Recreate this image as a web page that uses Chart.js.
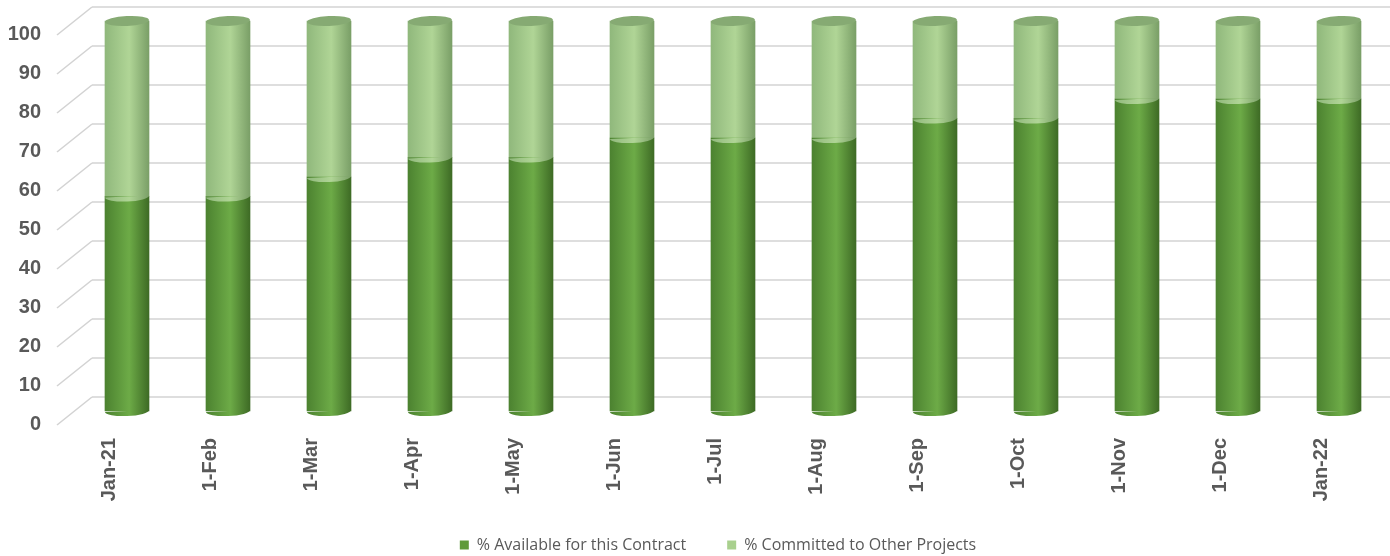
<!DOCTYPE html>
<html>
<head>
<meta charset="utf-8">
<script src="https://cdn.jsdelivr.net/npm/chart.js@4/dist/chart.umd.min.js"></script>
<style>
html, body { margin: 0; padding: 0; background: #fff; }
#wrap { width: 1390px; height: 556px; }
</style>
</head>
<body>
<div id="wrap"><canvas id="resources"></canvas></div>
<script>
var months = ["Jan-21", "1-Feb", "1-Mar", "1-Apr", "1-May", "1-Jun", "1-Jul",
	"1-Aug", "1-Sep", "1-Oct", "1-Nov", "1-Dec", "Jan-22"];
var available = [55, 55, 60, 65, 65, 70, 70, 70, 75, 75, 80, 80, 80];
var committed = [45, 45, 40, 35, 35, 30, 30, 30, 25, 25, 20, 20, 20];

// cylinder shading: left edge, highlight, right edge
var darkShade = ["#4c8230", "#6dab47", "#3e6b25"];
var lightShade = ["#90b87c", "#b0d596", "#7a9f67"];
var DEPTH_X = 17, DEPTH_Y = 14, CAP_RY = 5;
var LEGEND_DX = 46, LEGEND_DY = -8;

function shade(ctx, x, w, stops) {
	var g = ctx.createLinearGradient(x - w / 2, 0, x + w / 2, 0);
	g.addColorStop(0, stops[0]);
	g.addColorStop(0.55, stops[1]);
	g.addColorStop(1, stops[2]);
	return g;
}

function cylinder(stops) {
	return function (c) {
		var chart = c.chart;
		if (!chart.chartArea || c.dataIndex == null) return stops[1];
		var x = chart.scales.x.getPixelForValue(c.dataIndex);
		return shade(chart.ctx, x, 44, stops);
	};
}

// back wall gridlines + diagonal connectors, then cylinder caps
var threeD = {
	id: 'threeD',
	afterInit: function (chart) {
		// wide gap between legend items but a short legend box, nudged into place
		var lg = chart.legend, fit = lg.fit, draw = lg.draw;
		lg.fit = function () {
			fit.call(this);
			this.height = 52;
		};
		lg.draw = function () {
			var top = this.top, bottom = this.bottom;
			this.ctx.save();
			this.ctx.translate(LEGEND_DX, LEGEND_DY);
			this.bottom = bottom + 30;
			draw.apply(this, arguments);
			this.bottom = bottom;
			this.ctx.restore();
		};
	},
	beforeDatasetsDraw: function (chart) {
		var ctx = chart.ctx, y = chart.scales.y, area = chart.chartArea;
		ctx.save();
		ctx.strokeStyle = "#d3d3d3";
		ctx.lineWidth = 1.6;
		y.ticks.forEach(function (t) {
			var py = y.getPixelForValue(t.value);
			ctx.beginPath();
			ctx.moveTo(area.left - 2 * DEPTH_X - 1, py - DEPTH_Y);
			ctx.lineTo(chart.width, py - DEPTH_Y);
			ctx.stroke();
			ctx.beginPath();
			ctx.moveTo(area.left - 4 * DEPTH_X - 2, py + DEPTH_Y);
			ctx.lineTo(area.left - 2 * DEPTH_X - 1, py - DEPTH_Y);
			ctx.stroke();
		});
		ctx.restore();
	},
	afterDatasetsDraw: function (chart) {
		var ctx = chart.ctx;
		var low = chart.getDatasetMeta(0).data;
		var high = chart.getDatasetMeta(1).data;
		ctx.save();
		low.forEach(function (el) {
			var w = el.width;
			ctx.fillStyle = shade(ctx, el.x, w, darkShade);
			ctx.beginPath();
			ctx.ellipse(el.x, el.base, w / 2, CAP_RY, -0.04, 0, Math.PI);
			ctx.fill();
			ctx.fillStyle = shade(ctx, el.x, w, lightShade);
			ctx.beginPath();
			ctx.ellipse(el.x, el.y, w / 2, CAP_RY, -0.04, 0, Math.PI);
			ctx.fill();
		});
		high.forEach(function (el) {
			var w = el.width;
			ctx.fillStyle = "#86aa73";
			ctx.beginPath();
			ctx.ellipse(el.x, el.y, w / 2, CAP_RY, -0.05, 0, Math.PI * 2);
			ctx.fill();
		});
		ctx.restore();
	}
};

var config = {
	type: 'bar',
	data: {
		labels: months,
		datasets: [{
			label: "% Available for this Contract",
			data: available,
			backgroundColor: cylinder(darkShade),
			clip: false
		}, {
			label: "% Committed to Other Projects",
			data: committed,
			backgroundColor: cylinder(lightShade),
			clip: false
		}]
	},
	options: {
		responsive: true,
		maintainAspectRatio: false,
		animation: false,
		barThickness: 44,
		layout: { padding: { top: 21, right: 46, left: 0, bottom: 0 } },
		scales: {
			x: {
				stacked: true,
				offset: false,
				grid: { display: false, drawTicks: false },
				border: { display: false },
				ticks: {
					color: "#595959",
					font: { family: "Liberation Sans", size: 20, weight: "bold" },
					maxRotation: 90,
					minRotation: 90,
					labelOffset: -18,
					padding: 27
				},
				afterFit: function (s) { s.height = 93; }
			},
			y: {
				stacked: true,
				min: 0,
				max: 100,
				grid: { display: false, drawTicks: false },
				border: { display: false },
				ticks: {
					stepSize: 10,
					color: "#595959",
					font: { family: "Liberation Sans", size: 20, weight: "bold" },
					labelOffset: 13,
					padding: 86
				},
				afterFit: function (s) {
					s.width = 127;
					s.paddingTop = 0;
					s.paddingBottom = 0;
				}
			}
		},
		plugins: {
			legend: {
				position: 'bottom',
				labels: {
					boxWidth: 9,
					boxHeight: 9,
					padding: 41,
					color: "#595959",
					font: { family: "Open Sans", size: 16 },
					generateLabels: function (chart) {
						var cols = ["#5f9a3a", "#a9d08e"];
						return chart.data.datasets.map(function (d, i) {
							return { text: d.label, fillStyle: cols[i], strokeStyle: cols[i], lineWidth: 0, datasetIndex: i, fontColor: "#595959" };
						});
					}
				}
			},
			tooltip: { enabled: false }
		}
	},
	plugins: [threeD]
};

var ctx = document.getElementById("resources").getContext("2d");
window.resourceChart = new Chart(ctx, config);
</script>
</body>
</html>
